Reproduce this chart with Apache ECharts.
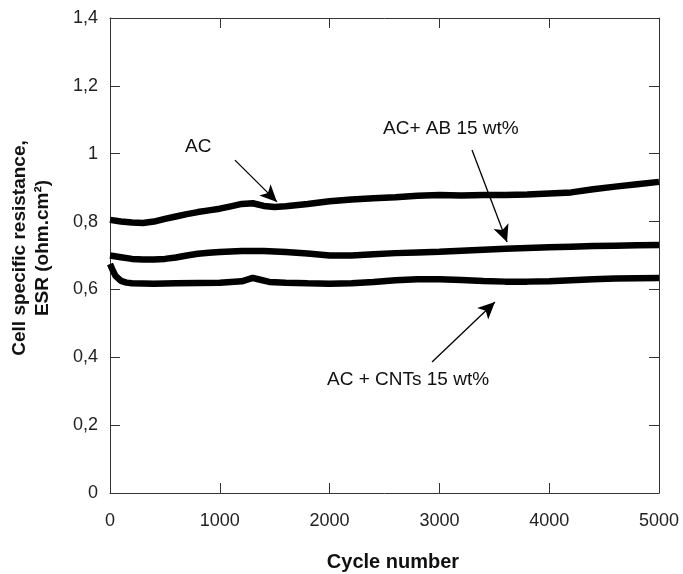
<!DOCTYPE html>
<html>
<head>
<meta charset="utf-8">
<script src="https://cdn.jsdelivr.net/npm/echarts@6/dist/echarts.min.js"></script>
<style>html,body{margin:0;padding:0;background:#fff}#c{width:683px;height:574px}</style>
</head>
<body>
<div id="c"></div>
<script>
// Data
const xTicks = [0, 1000, 2000, 3000, 4000, 5000];
const yTicks = [0, 0.2, 0.4, 0.6, 0.8, 1, 1.2, 1.4];

const acCycles = [0,100,200,300,400,500,600,700,800,900,1000,1100,1200,1300,1400,1500,1600,1800,2000,2200,2400,2600,2800,3000,3200,3400,3600,3800,4000,4200,4400,4600,4800,5000];
const acValues = [0.805,0.800,0.797,0.796,0.800,0.808,0.815,0.822,0.828,0.833,0.838,0.845,0.852,0.854,0.846,0.843,0.845,0.852,0.860,0.865,0.869,0.872,0.876,0.878,0.877,0.878,0.878,0.880,0.883,0.886,0.895,0.903,0.910,0.917];

const abCycles = [0,100,200,300,400,500,600,700,800,900,1000,1200,1400,1600,1800,2000,2200,2400,2600,2800,3000,3200,3400,3600,3800,4000,4200,4400,4600,4800,5000];
const abValues = [0.700,0.695,0.690,0.688,0.688,0.690,0.694,0.700,0.705,0.708,0.710,0.713,0.713,0.710,0.706,0.700,0.700,0.704,0.707,0.709,0.711,0.714,0.717,0.720,0.722,0.724,0.726,0.728,0.729,0.730,0.731];

const cntCycles = [0,20,50,100,150,200,400,600,800,1000,1200,1300,1350,1450,1600,1800,2000,2200,2400,2600,2800,3000,3200,3400,3600,3800,4000,4200,4400,4600,4800,5000];
const cntValues = [0.675,0.660,0.640,0.625,0.620,0.618,0.617,0.618,0.619,0.620,0.624,0.634,0.630,0.622,0.620,0.618,0.617,0.618,0.622,0.627,0.630,0.630,0.628,0.625,0.623,0.623,0.624,0.627,0.630,0.632,0.633,0.634];

const labels = ["AC", "AC+ AB 15 wt%", "AC + CNTs 15 wt%"];
// arrows: [startCycle, startValue, tipCycle, tipValue]
const acArrow = [1138, 0.981, 1521, 0.858];
const abArrow = [3297, 1.011, 3616, 0.740];
const cntArrow = [2933, 0.386, 3506, 0.563];

const pairs = (xs, ys) => xs.map((x, i) => [x, ys[i]]);
const FONT = "'Liberation Sans', Arial, Helvetica, sans-serif";
const fmtY = v => String(+(+v).toFixed(1)).replace('.', ',');
const fmtX = v => String(Math.round(v));

const axisLine = {show: true, onZero: false, lineStyle: {color: '#333', width: 1}};
const axisTick = {show: true, inside: true, length: 10, lineStyle: {color: '#333', width: 1}};

function arrow(a) {
  return [{coord: [a[0], a[1]]}, {coord: [a[2], a[3]]}];
}

const lineSeries = (name, data, extra) => Object.assign({
  name, type: 'line', data, showSymbol: false, symbol: 'none',
  lineStyle: {color: '#000', width: 6.5}, itemStyle: {color: '#000'},
  animation: false, z: 3
}, extra || {});

const chart = echarts.init(document.getElementById('c'), null, {renderer: 'canvas'});
chart.setOption({
  backgroundColor: '#fff',
  animation: false,
  grid: {left: 110, right: 24, top: 18, bottom: 81, containLabel: false},
  xAxis: [
    {type: 'value', min: 0, max: 5000, interval: 1000, position: 'bottom',
     axisLine, axisTick, splitLine: {show: false},
     axisLabel: {color: '#222', fontSize: 18, fontFamily: FONT, margin: 19, formatter: fmtX}},
    {type: 'value', min: 0, max: 5000, interval: 1000, position: 'top',
     axisLine, axisTick, splitLine: {show: false}, axisLabel: {show: false}}
  ],
  yAxis: [
    {type: 'value', min: 0, max: 1.4, interval: 0.2, position: 'left',
     axisLine, axisTick, splitLine: {show: false},
     axisLabel: {color: '#222', fontSize: 18, fontFamily: FONT, margin: 12, formatter: fmtY}},
    {type: 'value', min: 0, max: 1.4, interval: 0.2, position: 'right',
     axisLine, axisTick, splitLine: {show: false}, axisLabel: {show: false}}
  ],
  series: [
    lineSeries('AC', pairs(acCycles, acValues), {
      markLine: {silent: true, symbol: ['none', 'arrow'], symbolSize: [12, 17],
        lineStyle: {color: '#000', width: 1.3, type: 'solid'}, label: {show: false},
        data: [arrow(acArrow), arrow(abArrow), arrow(cntArrow)]}
    }),
    lineSeries('AC+AB', pairs(abCycles, abValues)),
    lineSeries('AC+CNTs', pairs(cntCycles, cntValues))
  ],
  graphic: [
    {type: 'text', x: 185, y: 147, style: {text: labels[0], font: '19px ' + FONT, fill: '#111', align: 'left', verticalAlign: 'middle'}},
    {type: 'text', x: 383, y: 129, style: {text: labels[1], font: '19px ' + FONT, fill: '#111', align: 'left', verticalAlign: 'middle'}},
    {type: 'text', x: 327, y: 380, style: {text: labels[2], font: '19px ' + FONT, fill: '#111', align: 'left', verticalAlign: 'middle'}},
    {type: 'text', x: 31, y: 248, rotation: Math.PI / 2,
     style: {text: 'Cell specific resistance,\nESR (ohm.cm\u00b2)', font: 'bold 19px ' + FONT,
       fill: '#111', align: 'center', verticalAlign: 'middle', lineHeight: 23}},
    {type: 'text', x: 393, y: 562,
     style: {text: 'Cycle number', font: 'bold 20px ' + FONT, fill: '#111', align: 'center', verticalAlign: 'middle'}}
  ]
});
</script>
</body>
</html>
